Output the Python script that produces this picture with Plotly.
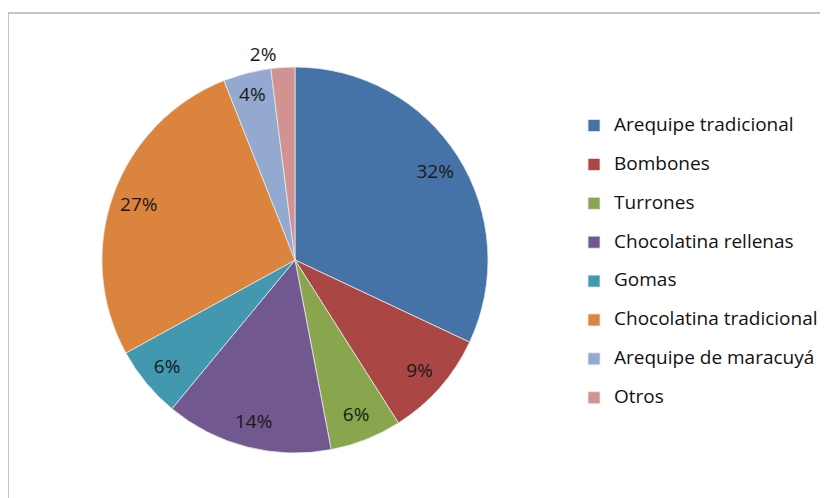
import plotly.graph_objects as go

categories = ["Arequipe tradicional", "Bombones", "Turrones", "Chocolatina rellenas",
              "Gomas", "Chocolatina tradicional", "Arequipe de maracuyá", "Otros"]
values = [32, 9, 6, 14, 6, 27, 4, 2]
colors = ["#4572A7", "#AA4643", "#89A54E", "#71588F",
          "#4198AF", "#DB843D", "#93A9CF", "#D19392"]
positions = ["inside"] * 7 + ["outside"]

# legend entries: larger text on first line, blank second line for spacing
legend_labels = ["<span style='font-size:19px'>" + c + "</span><br> " for c in categories]

dom = dict(x=[0.1135, 0.5797], y=[0.1064, 0.8815])
font = "Open Sans"

# full pie (body + legend)
fig = go.Figure(go.Pie(
    labels=legend_labels, values=values, sort=False, direction="clockwise", rotation=0,
    marker=dict(colors=colors, line=dict(color="#E8E8E8", width=0.8)),
    textinfo="none", domain=dom, hoverinfo="skip", showlegend=True,
))
# invisible ring overlay that carries the percentage labels near the rim
fig.add_trace(go.Pie(
    labels=legend_labels, values=values, sort=False, direction="clockwise", rotation=0,
    hole=0.72,
    marker=dict(colors=["rgba(0,0,0,0)"] * len(values), line=dict(width=0)),
    texttemplate="%{percent:.0%}", textposition=positions,
    insidetextorientation="horizontal",
    textfont=dict(family=font, size=19, color="#1a1a1a"),
    domain=dom, hoverinfo="skip", showlegend=False,
))

fig.update_layout(
    width=828, height=498,
    margin=dict(l=0, r=0, t=0, b=0),
    paper_bgcolor="white",
    legend=dict(x=0.6836, y=0.795, xanchor="left", yanchor="top",
                valign="top", font=dict(family=font, size=13.8, color="#111111"),
                itemwidth=30, bgcolor="rgba(0,0,0,0)"),
    shapes=[dict(type="rect", xref="paper", yref="paper", x0=0.0, x1=1.05, y0=-0.05, y1=0.99,
                 line=dict(color="#B0B0B0", width=1.5), fillcolor="rgba(0,0,0,0)")],
)

fig.write_html("out.html")
